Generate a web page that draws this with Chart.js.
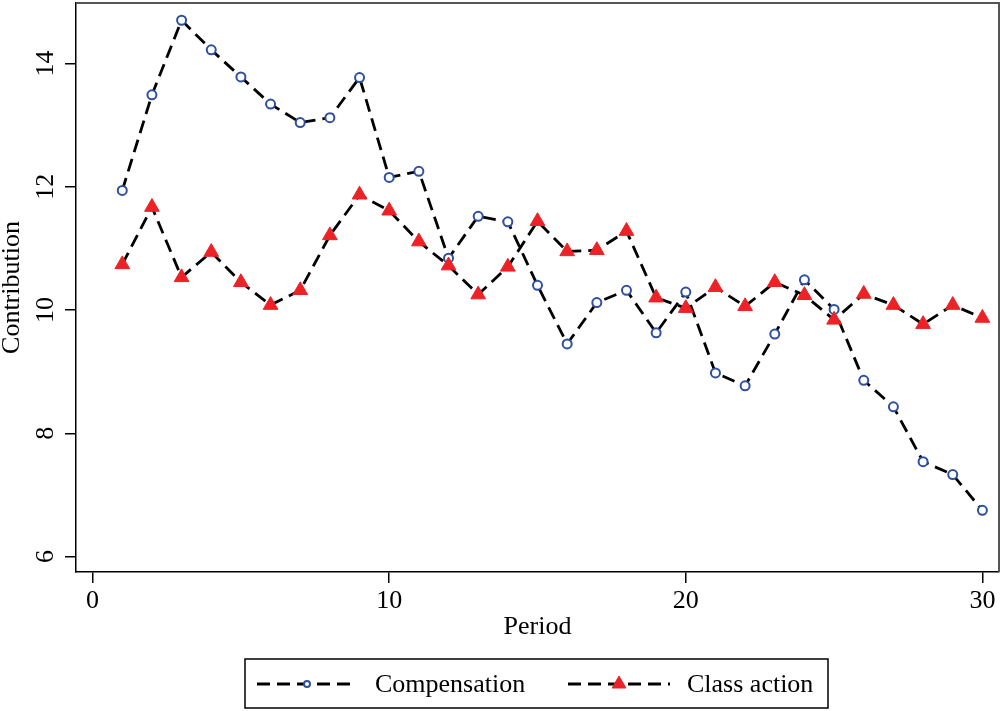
<!DOCTYPE html>
<html>
<head>
<meta charset="utf-8">
<script src="https://cdn.jsdelivr.net/npm/chart.js@4.4.1/dist/chart.umd.min.js"></script>
<style>
  html, body { margin: 0; padding: 0; background: #fff; }
  #wrap { width: 1002px; height: 711px; }
</style>
</head>
<body>
<div id="wrap"><canvas id="contribChart" width="1002" height="711"></canvas></div>
<script>
// values
const periods = [1, 2, 3, 4, 5, 6, 7, 8, 9, 10, 11, 12, 13, 14, 15,
                 16, 17, 18, 19, 20, 21, 22, 23, 24, 25, 26, 27, 28, 29, 30];
const compensation = [11.94, 13.49, 14.70, 14.22, 13.78, 13.34, 13.04, 13.12, 13.77, 12.15,
                      12.25, 10.84, 11.52, 11.43, 10.40, 9.45, 10.12, 10.32, 9.63, 10.29,
                      8.98, 8.77, 9.61, 10.49, 10.01, 8.86, 8.43, 7.54, 7.33, 6.75];
const classAction = [10.74, 11.67, 10.53, 10.94, 10.45, 10.08, 10.32, 11.21, 11.87, 11.61,
                     11.11, 10.72, 10.25, 10.70, 11.44, 10.95, 10.97, 11.28, 10.20, 10.03,
                     10.37, 10.06, 10.45, 10.24, 9.84, 10.26, 10.08, 9.77, 10.08, 9.87];
const xTicks = [0, 10, 20, 30];
const yTicks = [6, 8, 10, 12, 14];
const seriesNames = ['Compensation', 'Class action'];

const serif = "'Liberation Serif', 'Times New Roman', serif";
const blue = '#2f4f9f';
const red = '#ec2227';
const dash = [13, 7];

function toPoints(vals) {
    return periods.map((p, i) => ({ x: p, y: vals[i] }));
}

// top and right frame lines
const framePlugin = {
    id: 'frame',
    afterDraw(chart) {
        const { ctx, chartArea: a } = chart;
        ctx.save();
        ctx.strokeStyle = '#555';
        ctx.lineWidth = 2;
        ctx.beginPath();
        ctx.moveTo(a.left, a.top);
        ctx.lineTo(a.right, a.top);
        ctx.lineTo(a.right, a.bottom);
        ctx.stroke();
        ctx.restore();
    }
};

// boxed legend with dashed line + marker samples
const boxLegend = {
    id: 'boxLegend',
    afterDraw(chart) {
        const ctx = chart.ctx;
        const cy = 684;
        ctx.save();
        ctx.strokeStyle = '#000';
        ctx.lineWidth = 1.5;
        ctx.strokeRect(245, 659, 583, 49);

        const items = [
            { x0: 257, x1: 357, tx: 375, style: 'circle', r: 3, ds: chart.data.datasets[0] },
            { x0: 568, x1: 670, tx: 687, style: 'triangle', r: 8, ds: chart.data.datasets[1] }
        ];
        items.forEach((it, i) => {
            ctx.save();
            ctx.strokeStyle = '#000';
            ctx.lineWidth = 2.8;
            ctx.setLineDash(dash);
            ctx.beginPath();
            ctx.moveTo(it.x0, cy);
            ctx.lineTo(it.x1, cy);
            ctx.stroke();
            ctx.restore();

            ctx.save();
            ctx.fillStyle = it.ds.pointBackgroundColor;
            ctx.strokeStyle = it.ds.pointBorderColor;
            ctx.lineWidth = it.ds.pointBorderWidth;
            Chart.helpers.drawPoint(ctx, {
                pointStyle: it.style, radius: it.r, rotation: 0, borderWidth: it.ds.pointBorderWidth
            }, (it.x0 + it.x1) / 2, cy);
            ctx.restore();

            ctx.fillStyle = '#000';
            ctx.font = '26px ' + serif;
            ctx.textBaseline = 'middle';
            ctx.textAlign = 'left';
            ctx.fillText(seriesNames[i], it.tx, cy + 1);
        });
        ctx.restore();
    }
};

new Chart(document.getElementById('contribChart').getContext('2d'), {
    type: 'line',
    data: {
        datasets: [{
            label: seriesNames[0],
            data: toPoints(compensation),
            borderColor: '#000',
            borderWidth: 2.8,
            borderDash: dash,
            pointStyle: 'circle',
            pointRadius: 4.5,
            pointBorderWidth: 2,
            pointBorderColor: blue,
            pointBackgroundColor: '#fff',
            order: 1
        }, {
            label: seriesNames[1],
            data: toPoints(classAction),
            borderColor: '#000',
            borderWidth: 2.8,
            borderDash: dash,
            pointStyle: 'triangle',
            pointRadius: 8.5,
            pointBorderWidth: 1,
            pointBorderColor: red,
            pointBackgroundColor: red,
            order: 0
        }]
    },
    options: {
        responsive: false,
        animation: false,
        layout: { autoPadding: false, padding: { top: 3, right: 3, left: 0, bottom: 64 } },
        plugins: {
            legend: { display: false },
            tooltip: { enabled: false }
        },
        scales: {
            x: {
                type: 'linear',
                min: -0.56,
                max: 30.56,
                afterBuildTicks: s => { s.ticks = xTicks.map(v => ({ value: v })); },
                afterFit: s => { s.height = 75; s.paddingLeft = 0; s.paddingRight = 0; },
                grid: { drawOnChartArea: false, color: '#000', tickLength: 11, lineWidth: 1.5 },
                border: { color: '#000', width: 1.5 },
                ticks: { color: '#000', font: { family: serif, size: 26 }, padding: 3, maxRotation: 0 },
                title: {
                    display: true, text: 'Period', color: '#000',
                    font: { family: serif, size: 26 }, padding: { top: 0, bottom: 4 }
                }
            },
            y: {
                min: 5.75,
                max: 14.98,
                afterBuildTicks: s => { s.ticks = yTicks.map(v => ({ value: v })); },
                afterFit: s => { s.width = 76; s.paddingTop = 0; s.paddingBottom = 0; },
                grid: { drawOnChartArea: false, color: '#000', tickLength: 11, lineWidth: 1.5 },
                border: { color: '#000', width: 1.5 },
                ticks: {
                    color: '#000', font: { family: serif, size: 26 },
                    padding: 6, minRotation: 90, maxRotation: 90, crossAlign: 'center'
                },
                title: {
                    display: true, text: 'Contribution', color: '#000',
                    font: { family: serif, size: 26, lineHeight: 0.9 }, padding: 0
                }
            }
        }
    },
    plugins: [framePlugin, boxLegend]
});
</script>
</body>
</html>
